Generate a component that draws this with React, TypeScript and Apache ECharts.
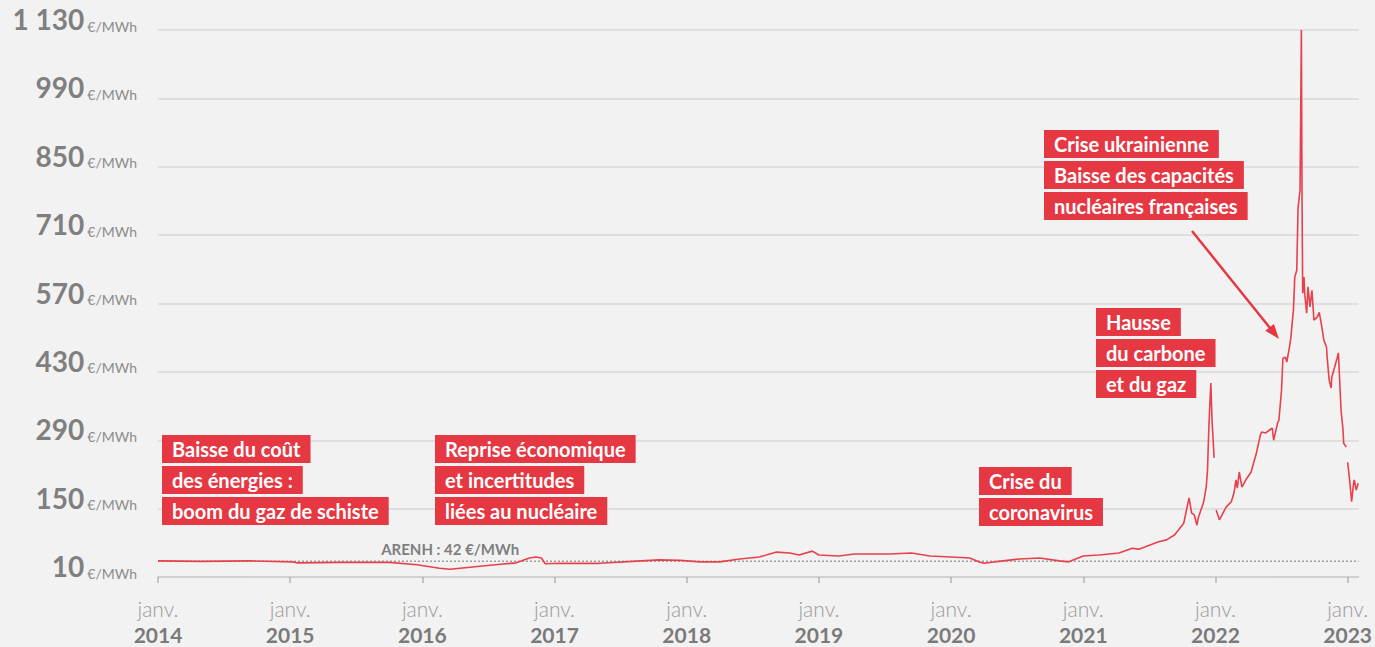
import React, { useEffect, useRef } from "react";
import * as echarts from "echarts";

// ---- Data ----
const yearTicks = [2014, 2015, 2016, 2017, 2018, 2019, 2020, 2021, 2022, 2023];
const yTicks = [10, 150, 290, 430, 570, 710, 850, 990, 1130];
const arenhValue = 42;
const arenhLabelAt = 2016.21;

// decimal year of each observation
const priceT = [
  2014.0, 2014.32, 2014.7, 2015.02, 2015.05, 2015.38, 2015.75, 2015.96, 2016.13, 2016.21,
  2016.36, 2016.59, 2016.71, 2016.81, 2016.86, 2016.9, 2016.93, 2017.04, 2017.34, 2017.59,
  2017.79, 2017.95, 2018.1, 2018.25, 2018.4, 2018.55, 2018.68, 2018.78, 2018.85, 2018.95,
  2019.0, 2019.15, 2019.27, 2019.53, 2019.7, 2019.84, 2020.0, 2020.14, 2020.21, 2020.25,
  2020.36, 2020.52, 2020.67, 2020.82, 2020.89, 2021.0, 2021.12, 2021.27, 2021.37, 2021.42,
  2021.5, 2021.57, 2021.63, 2021.69, 2021.72, 2021.76, 2021.8, 2021.82, 2021.84, 2021.86,
  2021.87, 2021.89, 2021.91, 2021.93, 2021.94, 2021.95, 2021.965, 2021.974, 2021.99, 2021.997,
  2022.005, 2022.03, 2022.05, 2022.08, 2022.12, 2022.14, 2022.155, 2022.165, 2022.18, 2022.2,
  2022.23, 2022.27, 2022.29, 2022.31, 2022.34, 2022.35, 2022.38, 2022.41, 2022.43, 2022.44,
  2022.47, 2022.48, 2022.5, 2022.51, 2022.53, 2022.54, 2022.56, 2022.57, 2022.59, 2022.6,
  2022.615, 2022.625, 2022.64, 2022.65, 2022.655, 2022.66, 2022.67, 2022.675, 2022.69, 2022.7,
  2022.715, 2022.73, 2022.745, 2022.77, 2022.785, 2022.8, 2022.82, 2022.84, 2022.845, 2022.86,
  2022.875, 2022.88, 2022.9, 2022.92, 2022.93, 2022.935, 2022.95, 2022.965, 2022.97, 2022.99,
  2022.995, 2023.0, 2023.015, 2023.03, 2023.045, 2023.05, 2023.065, 2023.08,
];

// €/MWh (null = contract roll, line break)
const priceV = [
  43, 42, 43, 41, 39, 40, 40, 35, 28, 26,
  30, 36, 39, 49, 51, 49, 37, 38, 38, 42,
  45, 44, 41, 41, 47, 51, 61, 59, 55, 63,
  55, 53, 57, 57, 59, 53, 51, 49, 41, 38,
  42, 47, 49, 43, 41, 53, 55, 59, 69, 67,
  75, 82, 86, 96, 106, 120, 172, 141, 137, 116,
  131, 147, 163, 194, 229, 317, 407, 331, 254, null,
  147, 127, 137, 153, 164, 182, 209, 192, 225, 194,
  209, 225, 245, 264, 301, 307, 305, 311, 315, 290,
  325, 331, 393, 458, 460, 450, 481, 499, 557, 624,
  638, 767, 802, 1130, 782, 591, 624, 591, 550, 604,
  563, 597, 536, 542, 552, 530, 495, 481, 460, 413,
  397, 419, 438, 458, 469, 440, 352, 311, 284, 276,
  null, 245, 209, 164, 202, 209, 188, 202,
];

const annotationTexts = [
  ["Baisse du coût", "des énergies :", "boom du gaz de schiste"],
  ["Reprise économique", "et incertitudes", "liées au nucléaire"],
  ["Crise du", "coronavirus"],
  ["Hausse", "du carbone", "et du gaz"],
  ["Crise ukrainienne", "Baisse des capacités", "nucléaires françaises"],
];
const arenhLabel = "ARENH : 42 €/MWh";
const unitLabel = "€/MWh";
const monthLabel = "janv.";

// ---- Layout / styles ----
const annotationPos = [
  [162, 435],
  [435, 435],
  [979, 467],
  [1096, 308],
  [1044, 130],
];
const LINE_STEP = 31;
const RED = "#e63843";
const LINE_RED = "#e8414b";
const FONT = "Lato, 'Noto Sans', sans-serif";

function fmtNum(v: number) {
  return String(v).replace(/\B(?=(\d{3})+(?!\d))/g, " ");
}

export default function App() {
  const ref = useRef<HTMLDivElement>(null);
  useEffect(() => {
    if (!ref.current) return;
    const chart = echarts.init(ref.current, undefined, { renderer: "svg" });

    const seriesData = priceT.map((t, i) => [t, priceV[i] === null ? "-" : priceV[i]]);
    const arenhData = [
      [yearTicks[0], arenhValue],
      {
        value: [arenhLabelAt, arenhValue],
        label: {
          show: true,
          position: "top",
          distance: 5,
          formatter: arenhLabel,
          fontFamily: FONT,
          fontWeight: "bold",
          fontSize: 15,
          color: "#7f7f7f",
        },
      },
      [2023.083, arenhValue],
    ];

    const graphics: any[] = [];
    annotationTexts.forEach((lines, k) => {
      lines.forEach((txt, j) => {
        graphics.push({
          type: "text",
          x: annotationPos[k][0],
          y: annotationPos[k][1] + j * LINE_STEP,
          z: 100,
          style: {
            text: txt,
            fill: "#ffffff",
            fontFamily: FONT,
            fontWeight: "bold",
            fontSize: 20,
            lineHeight: 20,
            backgroundColor: RED,
            padding: [4, 10, 4, 10],
            align: "left",
            verticalAlign: "top",
          },
        });
      });
    });
    // arrow
    graphics.push({
      type: "line",
      z: 100,
      shape: { x1: 1192, y1: 231, x2: 1270, y2: 328 },
      style: { stroke: RED, lineWidth: 2.5 },
    });
    graphics.push({
      type: "polygon",
      z: 100,
      shape: {
        points: [
          [1279, 339],
          [1265.3, 330.8],
          [1273.9, 323.9],
        ],
      },
      style: { fill: RED },
    });

    chart.setOption({
      animation: false,
      backgroundColor: "#f2f2f2",
      grid: { left: 158, right: 15, top: 30, bottom: 70, containLabel: false },
      xAxis: {
        type: "value",
        min: 2014,
        max: 2023.083,
        interval: 1,
        splitLine: { show: false },
        axisLine: { show: true, lineStyle: { color: "#cccccc", width: 1.5 } },
        axisTick: {
          show: true,
          customValues: yearTicks,
          length: 6,
          lineStyle: { color: "#b5b5b5", width: 1.5 },
        },
        axisLabel: {
          customValues: yearTicks,
          margin: 18,
          formatter: (v: number) => `{a|${monthLabel}}\n{b|${Math.round(v)}}`,
          rich: {
            a: { fontFamily: FONT, fontWeight: 300, fontSize: 21, color: "#9a9a9a", lineHeight: 26 },
            b: { fontFamily: FONT, fontWeight: "bold", fontSize: 21, color: "#7a7a7a", lineHeight: 26 },
          },
        },
      },
      yAxis: {
        type: "value",
        min: yTicks[0],
        max: yTicks[yTicks.length - 1],
        interval: yTicks[1] - yTicks[0],
        axisLine: { show: false },
        axisTick: { show: false },
        splitLine: { lineStyle: { color: "#d9d9d9", width: 1.5 } },
        axisLabel: {
          margin: 21,
          verticalAlign: "bottom",
          padding: [0, 0, -3, 0],
          formatter: (v: number) => `{n|${fmtNum(v)}}{u|${unitLabel}}`,
          rich: {
            n: { fontFamily: FONT, fontWeight: "bold", fontSize: 28, color: "#7f7f7f", lineHeight: 28, verticalAlign: "bottom" },
            u: { fontFamily: FONT, fontSize: 14, color: "#8c8c8c", lineHeight: 28, padding: [0, 0, 0, 3], verticalAlign: "bottom" },
          },
        },
      },
      series: [
        {
          type: "line",
          data: arenhData,
          symbol: "circle",
          symbolSize: 0,
          showSymbol: true,
          silent: true,
          lineStyle: { color: "#9e9e9e", width: 1.5, type: [2, 2] },
          itemStyle: { color: "#9e9e9e" },
          z: 2,
        },
        {
          type: "line",
          data: seriesData,
          showSymbol: false,
          connectNulls: false,
          lineStyle: { color: LINE_RED, width: 1.6 },
          itemStyle: { color: LINE_RED },
          z: 3,
        },
      ],
      graphic: graphics,
    });

    return () => chart.dispose();
  }, []);

  return (
    <div
      ref={ref}
      style={{ position: "fixed", left: 0, top: 0, width: 1375, height: 647 }}
    />
  );
}
